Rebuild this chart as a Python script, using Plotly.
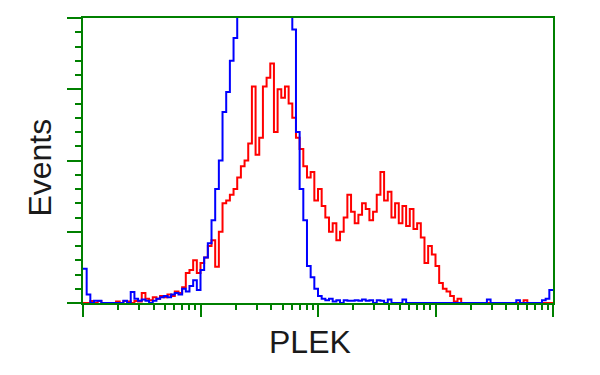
import plotly.graph_objects as go

# Histogram channels: 32 channels per decade over 4 decades (128 channels)
CH_PER_DECADE = 32
channels = list(range(128))

blue_counts = [
    12, 3, 0, 0.8, 0.8, 0, 0, 0, 0, 0, 0, 0.8, 0, 3.9, 1.5, 0.8,
    1.2, 0.8, 0, 0.8, 1.5, 2, 2.5, 2, 3, 3.5, 3, 5, 4, 6, 8, 4.6,
    11.6, 16, 21, 29, 40, 50, 67, 74, 85, 93, 110, 122, 135, 148, 158, 165,
    168, 165, 160, 152, 143, 134, 125, 116, 108, 96, 60, 40, 29, 13, 9, 5,
    2.5, 1.5, 1, 1.5, 0.5, 1, 0, 1, 0.8, 0.8, 1, 0.8, 1.2, 0.8, 1, 0,
    1, 0.8, 0, 1.2, 0, 0, 0, 1.2, 0, 0, 0, 0, 0, 0, 0, 0,
    0, 0, 0, 0, 0, 0, 0, 0, 0, 0, 0, 0, 0, 0, 1.2, 0,
    0, 0, 0, 0, 0, 0, 1, 0, 0, 0, 0, 0, 0, 1, 1.5, 4.6,
]

red_counts = [
    0, 0, 0.7, 0, 0.7, 0, 0, 0, 0, 0.5, 0, 0.7, 0.5, 0, 0.7, 0.5,
    3.5, 1.5, 1, 2, 1.5, 2.5, 2, 3, 2.5, 4, 3.5, 5.5, 10.5, 11.6, 15, 10.5,
    14, 16, 20, 22, 12.7, 25, 35, 36, 38, 40, 44, 48, 50, 56, 76, 52,
    58, 76, 79, 84, 60, 75, 72, 76, 70, 65, 58, 54, 48, 44, 46, 36,
    40, 34, 30, 25, 28, 22, 25, 30, 38, 32, 28, 31, 35, 33, 29, 32,
    38, 46, 36, 39, 30, 35, 28, 34, 27, 33, 26, 28, 23, 14, 20, 17,
    13, 7, 5, 4, 2.5, 0.5, 1.5, 0, 0, 0, 0, 0, 0, 0, 0, 0,
    0, 0, 0, 0, 0, 0, 0, 0, 1, 0, 0, 0, 0, 0, 0, 0,
]

GREEN = "rgb(0,128,0)"

# bin left edges in data units (log scale), plus final right edge
x_edges = [10 ** (c / CH_PER_DECADE) for c in channels] + [10 ** 4]

fig = go.Figure()
fig.add_trace(go.Scatter(
    x=x_edges, y=red_counts + [red_counts[-1]], mode="lines",
    line=dict(color="rgb(255,0,0)", width=2, shape="hv"), hoverinfo="skip",
))
fig.add_trace(go.Scatter(
    x=x_edges, y=blue_counts + [blue_counts[-1]], mode="lines",
    line=dict(color="rgb(0,0,255)", width=2, shape="hv"), hoverinfo="skip",
))

fig.update_layout(
    width=600, height=375,
    margin=dict(l=83, r=47, t=18, b=72),
    paper_bgcolor="white", plot_bgcolor="white",
    showlegend=False,
    font=dict(family="Liberation Sans, Arial, sans-serif"),
    xaxis=dict(
        type="log", range=[0, 4], dtick=1,
        showgrid=False, zeroline=False, showticklabels=False,
        showline=True, linecolor=GREEN, linewidth=2, mirror=True,
        ticks="outside", ticklen=12, tickwidth=2, tickcolor=GREEN,
        minor=dict(ticks="outside", ticklen=5, tickwidth=2, tickcolor=GREEN, showgrid=False),
    ),
    yaxis=dict(
        range=[0, 100], dtick=25,
        showgrid=False, zeroline=False, showticklabels=False,
        showline=True, linecolor=GREEN, linewidth=2, mirror=True,
        ticks="outside", ticklen=14, tickwidth=2, tickcolor=GREEN,
        minor=dict(dtick=5, ticks="outside", ticklen=6, tickwidth=2, tickcolor=GREEN, showgrid=False),
    ),
    annotations=[
        dict(text="Events", xref="paper", yref="paper", x=-0.0915, y=0.475,
             xanchor="center", yanchor="middle", textangle=-90, showarrow=False,
             font=dict(size=32, color="#1a1a1a")),
        dict(text="PLEK", xref="paper", yref="paper", x=0.483, y=-0.137,
             xanchor="center", yanchor="middle", showarrow=False,
             font=dict(size=32, color="#1a1a1a")),
    ],
)

fig.write_html("out.html")
